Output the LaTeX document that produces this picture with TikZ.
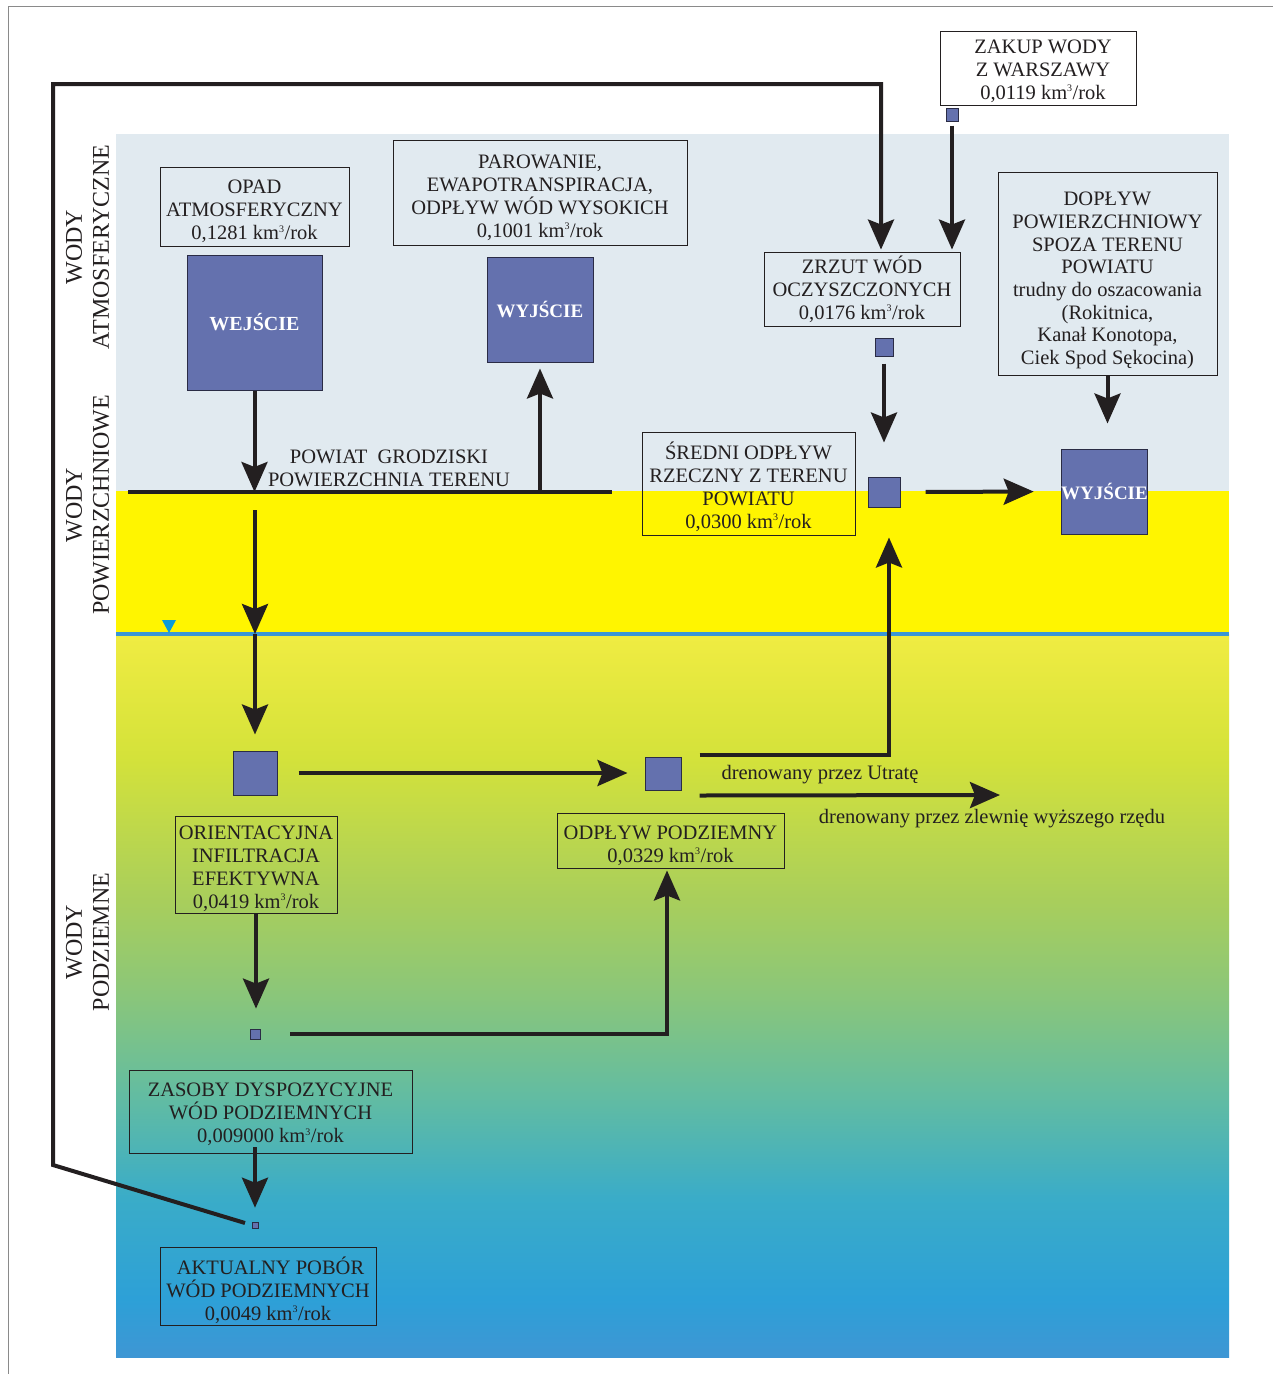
\documentclass[tikz,border=0pt]{standalone}
\usepackage{fontspec}
\setmainfont{Liberation Serif}
\usetikzlibrary{arrows.meta}

\definecolor{ink}{HTML}{231F20}
\definecolor{atmo}{HTML}{E1EAF0}
\definecolor{surf}{HTML}{FFF500}
\definecolor{wt}{HTML}{3A96D5}
\definecolor{wttri}{HTML}{0A9BDB}
\definecolor{sqfill}{HTML}{6471AE}
\definecolor{sqline}{HTML}{2A2C45}
\definecolor{framegray}{HTML}{8A8A8A}
% groundwater gradient, bottom to top
\definecolor{gw0}{RGB}{62,150,212}
\definecolor{gw1}{RGB}{45,160,215}
\definecolor{gw2}{RGB}{58,172,200}
\definecolor{gw3}{RGB}{98,188,162}
\definecolor{gw4}{RGB}{138,198,122}
\definecolor{gw5}{RGB}{168,206,92}
\definecolor{gw6}{RGB}{212,226,58}
\definecolor{gw7}{RGB}{240,236,66}
\pgfdeclareverticalshading{groundwater}{100bp}{color(0bp)=(gw0); color(25bp)=(gw0); color(29bp)=(gw1); color(36bp)=(gw2); color(43bp)=(gw3); color(50bp)=(gw4); color(56.5bp)=(gw5); color(66.5bp)=(gw6); color(75bp)=(gw7); color(100bp)=(gw7)}

\newcommand\kmrok{km\textsuperscript{\fontsize{10}{10}\selectfont 3}/rok}

\begin{document}
\begin{tikzpicture}[x=1pt,y=-1pt,
  font=\fontsize{20.5}{23}\selectfont,
  box/.style={draw=ink, line width=0.9pt, inner sep=0pt},
  boxtext/.style={inner sep=0pt, align=center, text=ink},
  sq/.style={draw=sqline, fill=sqfill, line width=1pt, inner sep=0pt},
  outlbl/.style={text=white, font=\fontsize{19}{21}\selectfont\bfseries},
  sidelab/.style={rotate=90, align=center, text=ink, font=\fontsize{24}{27}\selectfont},
  lbl/.style={text=ink, align=center},
  conn/.style={ink, line width=4pt},
  arr/.style={conn, -{Stealth[length=30pt,width=26pt,inset=5pt]}}]

\useasboundingbox (0,0) rectangle (1273,1374);
\fill[white] (0,0) rectangle (1273,1374);
\draw[framegray, line width=1pt] (8,1374) -- (8,6.5) -- (1273,6.5);

% zones: atmosphere, surface water, groundwater
\fill[atmo] (116,134) rectangle (1229,491);
\fill[surf] (116,491) rectangle (1229,634);
\shade[shading=groundwater] (116,634) rectangle (1229,1357);
\draw[wt, line width=4pt] (116,634) coordinate (wtL) -- (1229,634) coordinate (wtR);
\fill[wttri] (162,620) -- (176,620) -- (169,633) -- cycle;

% ground surface
\draw[conn] (128,492) coordinate (surfL) -- (612,492) coordinate (surfR);
\node[lbl] (powiat) at (389,468.5) {POWIAT~~GRODZISKI\\POWIERZCHNIA TERENU};

% zone captions
\node[sidelab] (capA) at (87.5,247) {WODY\\ATMOSFERYCZNE};
\node[sidelab] (capS) at (87.5,505) {WODY\\POWIERZCHNIOWE};
\node[sidelab] (capG) at (87.5,942) {WODY\\PODZIEMNE};

% text boxes: frame, then its text
\node[box, minimum width=189pt, minimum height=79pt] (opad) at (254.5,206.5) {};
\node[boxtext] (opadT) at ([yshift=-5pt]opad.center) {OPAD\\ATMOSFERYCZNY\\0,1281 \kmrok};
\node[box, minimum width=294pt, minimum height=105pt] (parow) at (540,192.5) {};
\node[boxtext] (parowT) at ([yshift=-5pt]parow.center) {PAROWANIE,\\EWAPOTRANSPIRACJA,\\ODPŁYW WÓD WYSOKICH\\0,1001 \kmrok};
\node[box, fill=white, minimum width=196pt, minimum height=74pt] (zakup) at (1038,68) {};
\node[boxtext] (zakupT) at ([shift={(5pt,-3pt)}]zakup.center) {ZAKUP WODY\\Z WARSZAWY\\0,0119 \kmrok};
\node[box, minimum width=196pt, minimum height=74pt] (zrzut) at (862,289) {};
\node[boxtext] (zrzutT) at (zrzut.center) {ZRZUT WÓD\\OCZYSZCZONYCH\\0,0176 \kmrok};
\node[box, minimum width=219pt, minimum height=203pt] (doplyw) at (1107.5,273.5) {};
\node[boxtext, font=\fontsize{20.5}{22.7}\selectfont] (doplywT) at ([yshift=-7pt]doplyw.center) {DOPŁYW\\POWIERZCHNIOWY\\SPOZA TERENU\\POWIATU\\trudny do oszacowania\\(Rokitnica,\\Kanał Konotopa,\\Ciek Spod Sękocina)};
\node[box, minimum width=213pt, minimum height=103pt] (sredni) at (748.5,483.5) {};
\node[boxtext] (sredniT) at ([yshift=-3pt]sredni.center) {ŚREDNI ODPŁYW\\RZECZNY Z TERENU\\POWIATU\\0,0300 \kmrok};
\node[box, minimum width=162pt, minimum height=97pt] (orient) at (256,864.5) {};
\node[boxtext] (orientT) at ([yshift=-4pt]orient.center) {ORIENTACYJNA\\INFILTRACJA\\EFEKTYWNA\\0,0419 \kmrok};
\node[box, minimum width=227pt, minimum height=55pt] (odplpod) at (670.5,840.5) {};
\node[boxtext] (odplpodT) at ([yshift=-5pt]odplpod.center) {ODPŁYW PODZIEMNY\\0,0329 \kmrok};
\node[box, minimum width=283pt, minimum height=83pt] (zasoby) at (270.5,1111.5) {};
\node[boxtext] (zasobyT) at ([yshift=-3pt]zasoby.center) {ZASOBY DYSPOZYCYJNE\\WÓD PODZIEMNYCH\\0,009000 \kmrok};
\node[box, minimum width=216pt, minimum height=78pt] (aktual) at (268,1286) {};
\node[boxtext] (aktualT) at ([yshift=-4pt]aktual.center) {~AKTUALNY POBÓR\\WÓD PODZIEMNYCH\\0,0049 \kmrok};

% balance squares
\node[sq, outlbl, font=\fontsize{20}{22}\selectfont\bfseries, minimum width=135pt, minimum height=135pt] (wej) at (254.5,322.5) {WEJŚCIE};
\node[sq, outlbl, minimum width=106pt, minimum height=105pt] (wyj1) at (540,309.5) {WYJŚCIE};
\node[sq, outlbl, minimum width=85pt, minimum height=85pt] (wyj2) at (1104.5,491.5) {WYJŚCIE};
\node[sq, minimum width=12pt, minimum height=13pt] (sqZak) at (952,114.5) {};
\node[sq, minimum width=18pt, minimum height=18pt] (sqZrz) at (884,347) {};
\node[sq, minimum width=32pt, minimum height=30pt] (sqRiver) at (884,492) {};
\node[sq, minimum width=44pt, minimum height=44pt] (sqInf) at (255,773) {};
\node[sq, minimum width=36pt, minimum height=33pt] (sqPod) at (663,773.5) {};
\node[sq, line width=0.8pt, minimum width=10pt, minimum height=10pt] (sqRes) at (255,1034) {};
\node[sq, line width=0.6pt, minimum width=6pt, minimum height=6pt] (sqPob) at (255,1225) {};

% flow labels
\node[lbl] (drLab1) at (820,775) {drenowany przez Utratę};
\node[lbl] (drLab2) at (992,819) {drenowany przez zlewnię wyższego rzędu};
\coordinate (drZ) at (1000,795);

% flows
\draw[arr] (wej.south) -- (wej.south |- surfL);
\coordinate (infA) at (255,510);
\draw[arr] (infA) -- (infA |- wtL);
\draw[arr, shorten >=16pt] (infA |- wtL) -- (sqInf.north);
\draw[arr, shorten >=6pt] (wyj1.south |- surfL) -- (wyj1.south);
\draw[arr, shorten <=7pt, shorten >=2pt] (sqPob.west) -- (53,1165) -- (53,84) -| ([xshift=19pt]zrzut.north);
\draw[arr, shorten <=4pt, shorten >=2pt] (sqZak.south) -- (sqZak.south |- zrzut.north);
\draw[arr, shorten <=7pt, shorten >=34pt] (sqZrz.south) -- (sqRiver.north);
\draw[arr, shorten <=25pt, shorten >=27pt] (sqRiver.east) -- (wyj2.west);
\draw[arr, shorten <=1pt, shorten >=25pt] (doplyw.south) -- (doplyw.south |- wyj2.north);
\draw[arr, shorten <=21pt, shorten >=17pt] (sqInf.east) -- (sqInf.east -| sqPod.west);
\draw[arr, shorten >=30pt] ([shift={(18pt,2pt)}]sqPod.north east) -| ([xshift=5pt]sqRiver.south);
\draw[arr] ([shift={(18pt,-5pt)}]sqPod.south east) -- (drZ);
\draw[arr, shorten >=20pt] (orient.south) -- (orient.south |- sqRes.north);
\draw[arr, shorten <=30pt, shorten >=2pt] (sqRes.east) -| ([xshift=-3.5pt]odplpod.south);
\draw[arr, shorten <=-6pt, shorten >=14pt] (zasoby.south -| sqPob.north) -- (sqPob.north);
\end{tikzpicture}
\end{document}
